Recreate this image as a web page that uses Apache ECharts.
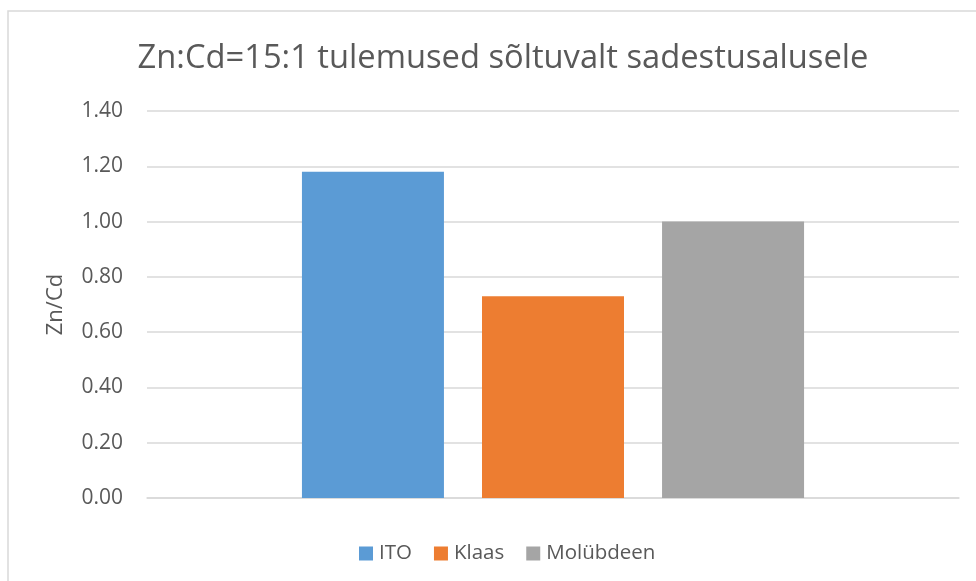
<!DOCTYPE html>
<html>
<head>
<meta charset="utf-8">
<script src="https://cdn.jsdelivr.net/npm/echarts@6/dist/echarts.min.js"></script>
<style>
  html, body { margin: 0; padding: 0; background: #fff; }
  #chart { width: 976px; height: 581px; }
</style>
</head>
<body>
<div id="chart"></div>
<script>
// values
const categories = ['']
const seriesNames = ['ITO', 'Klaas', 'Molübdeen']
const seriesValues = [[1.18], [0.73], [1.0]]
const colors = ['#5B9BD5', '#ED7D31', '#A5A5A5']
const yTicks = { min: 0, max: 1.4, interval: 0.2 }

const font = '"Open Sans", "Noto Sans", sans-serif'
const chart = echarts.init(document.getElementById('chart'))

chart.setOption({
  backgroundColor: '#fff',
  animation: false,
  color: colors,
  textStyle: { fontFamily: font, color: '#595959' },
  graphic: [
    {
      type: 'rect',
      shape: { x: 8, y: 11, width: 1200, height: 800 },
      style: { fill: 'none', stroke: '#D9D9D9', lineWidth: 1.5 },
      silent: true
    }
  ],
  title: {
    text: 'Zn:Cd=15:1 tulemused sõltuvalt sadestusalusele',
    left: 498,
    top: 37,
    textAlign: 'center',
    textStyle: { fontFamily: font, fontSize: 32.7, fontWeight: 'normal', color: '#595959' }
  },
  legend: {
    top: 538,
    left: 354,
    itemWidth: 14,
    itemHeight: 14,
    itemGap: 22,
    icon: 'rect',
    textStyle: { fontFamily: font, fontSize: 20.5, color: '#595959', padding: [0, 0, 0, 1] },
    data: seriesNames
  },
  grid: { left: 147, right: 17, top: 111, bottom: 83 },
  xAxis: {
    type: 'category',
    data: categories,
    axisLine: { lineStyle: { color: '#D9D9D9', width: 1.5 } },
    axisTick: { show: false },
    axisLabel: { show: false }
  },
  yAxis: {
    type: 'value',
    min: yTicks.min,
    max: yTicks.max,
    interval: yTicks.interval,
    name: 'Zn/Cd',
    nameLocation: 'middle',
    nameGap: 80,
    nameTextStyle: { fontFamily: font, fontSize: 22, color: '#595959' },
    axisLine: { show: false },
    axisTick: { show: false },
    axisLabel: {
      margin: 24,
      fontSize: 21,
      color: '#595959',
      formatter: (v) => v.toFixed(2)
    },
    splitLine: { lineStyle: { color: '#D9D9D9', width: 1.5 } }
  },
  series: seriesNames.map((name, i) => ({
    name,
    type: 'bar',
    data: seriesValues[i],
    barWidth: 142,
    barGap: '26.8%'
  }))
})
</script>
</body>
</html>
